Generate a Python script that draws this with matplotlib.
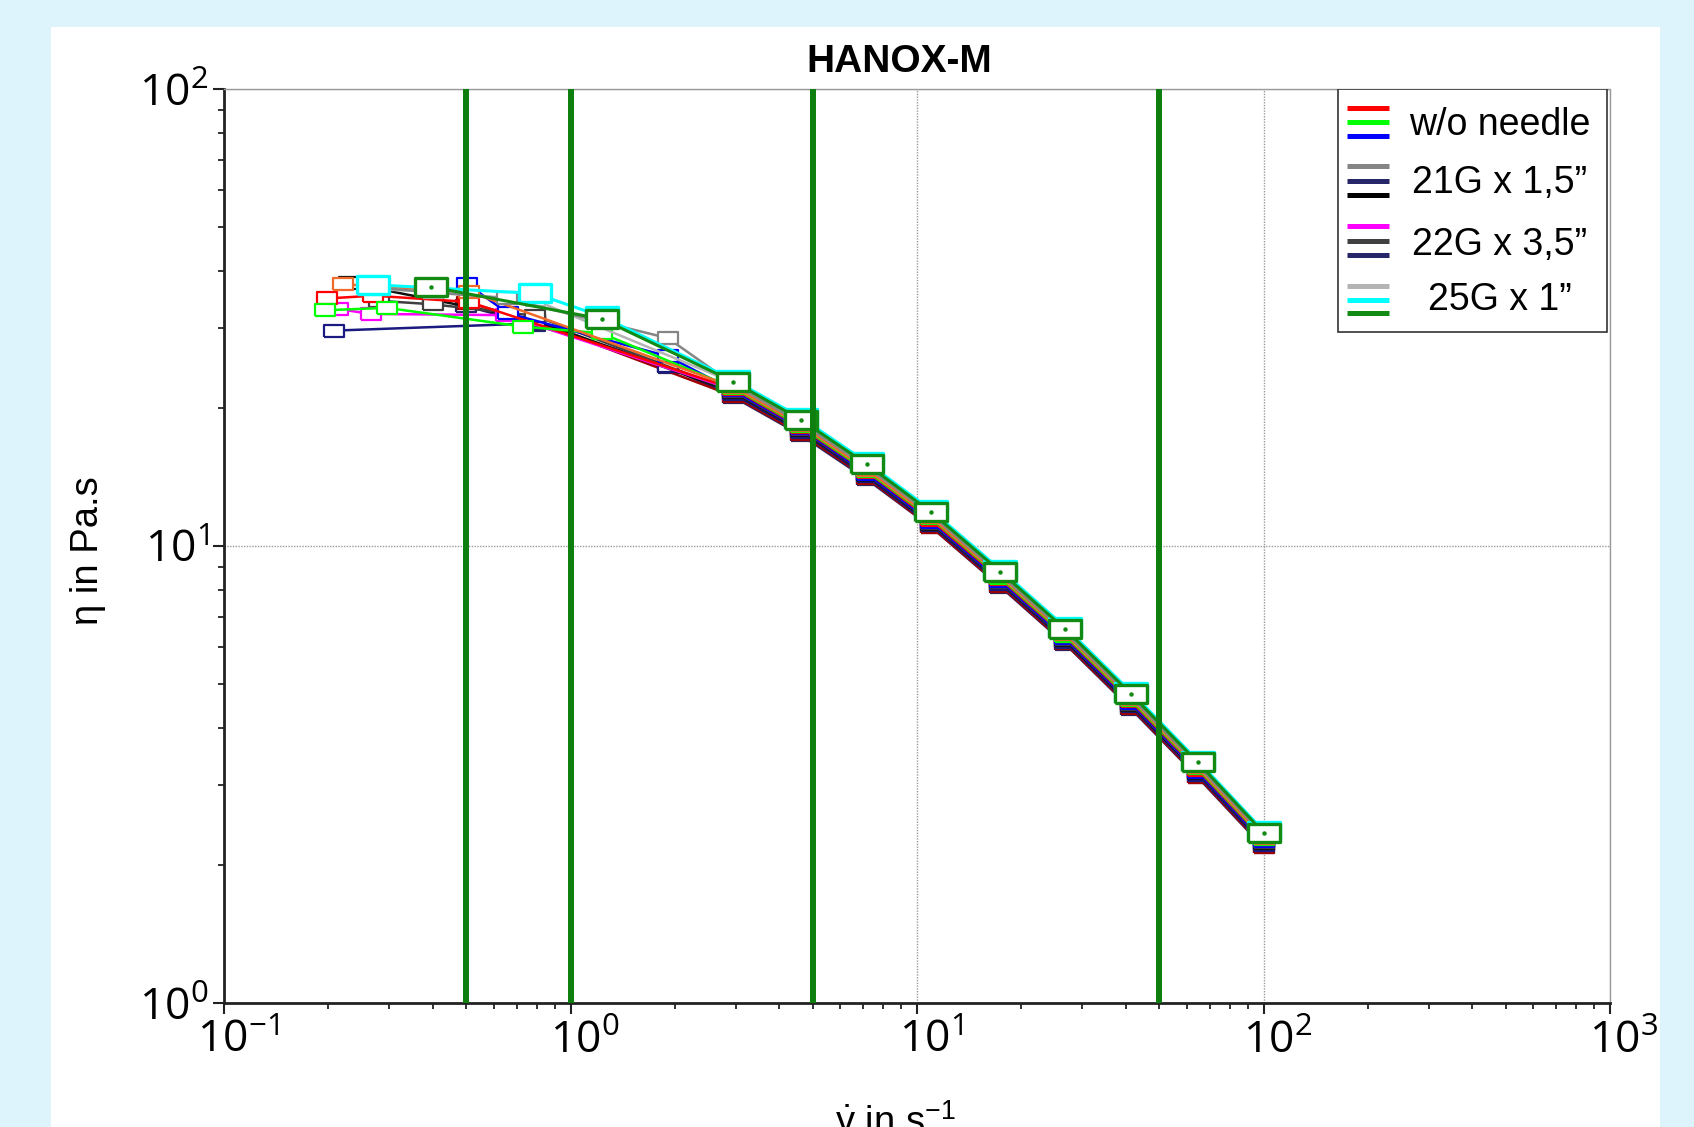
import matplotlib
matplotlib.use('Agg')
import matplotlib.pyplot as plt
from matplotlib.patches import Rectangle
from matplotlib.ticker import LogLocator, NullFormatter
from matplotlib.transforms import ScaledTranslation

plt.rcParams['font.family'] = ['Liberation Sans', 'DejaVu Sans']
plt.rcParams['mathtext.fontset'] = 'custom'
plt.rcParams['mathtext.rm'] = 'Liberation Sans'
plt.rcParams['mathtext.it'] = 'Liberation Sans:italic'

# shear rates shared by every run (1/s)
shear = [100, 64.6, 41.5, 26.8, 17.4, 11.0, 7.16, 4.62, 2.95]

# viscosity (Pa.s) on the shared shear rates, then low shear tail per run
eta_darknavy = [2.19, 3.12, 4.40, 6.10, 8.15, 11.0, 14.0, 17.5, 21.2]
tail_darknavy = ([1.91, 0.79, 0.50], [24.7, 30.5, 33.5])
eta_maroon = [2.20, 3.13, 4.42, 6.12, 8.19, 11.0, 14.1, 17.6, 21.3]
tail_maroon = ([0.79, 0.504], [31.0, 34.1])
eta_navy = [2.22, 3.16, 4.46, 6.18, 8.27, 11.1, 14.2, 17.8, 21.5]
tail_navy = ([1.91, 0.79, 0.208], [24.8, 30.7, 29.6])
eta_black = [2.24, 3.19, 4.49, 6.22, 8.33, 11.2, 14.3, 17.9, 21.7]
tail_black = ([0.79, 0.40, 0.23], [31.2, 34.6, 37.6])
eta_darkgray = [2.25, 3.20, 4.51, 6.25, 8.36, 11.25, 14.35, 18.0, 21.8]
tail_darkgray = ([0.79, 0.40, 0.28], [31.9, 33.8, 34.4])
eta_magenta = [2.27, 3.22, 4.55, 6.31, 8.44, 11.35, 14.5, 18.1, 22.0]
tail_magenta = ([0.65, 0.265, 0.214], [32.0, 32.2, 33.0])
eta_blue = [2.26, 3.21, 4.53, 6.28, 8.40, 11.3, 14.4, 18.1, 21.9]
tail_blue = ([1.91, 0.66, 0.504], [26.0, 32.3, 37.4])
eta_red = [2.28, 3.24, 4.57, 6.34, 8.48, 11.4, 14.55, 18.2, 22.1]
tail_red = ([0.51, 0.27, 0.198], [34.2, 35.3, 34.8])
eta_lime = [2.29, 3.26, 4.60, 6.37, 8.53, 11.5, 14.6, 18.3, 22.2]
tail_lime = ([1.23, 0.73, 0.295, 0.196], [29.2, 30.2, 33.2, 32.8])
eta_orange = [2.30, 3.28, 4.63, 6.41, 8.58, 11.55, 14.7, 18.4, 22.3]
tail_orange = ([0.51, 0.22], [36.0, 37.4])
eta_gray = [2.33, 3.31, 4.67, 6.47, 8.66, 11.7, 14.9, 18.6, 22.6]
tail_gray = ([1.91, 0.655, 0.27], [28.5, 34.8, 36.8])
eta_lightgray = [2.35, 3.34, 4.72, 6.54, 8.75, 11.8, 15.0, 18.8, 22.8]
tail_lightgray = ([0.79, 0.40, 0.27], [34.5, 36.0, 36.5])
eta_cyan = [2.38, 3.39, 4.79, 6.64, 8.88, 11.97, 15.25, 19.1, 23.1]
tail_cyan = ([1.23, 0.79, 0.27], [31.8, 35.7, 37.3])
eta_green = [2.36, 3.36, 4.74, 6.57, 8.79, 11.85, 15.1, 18.9, 22.9]
tail_green = ([1.23, 0.395], [31.4, 36.9])

# drawing order, bottom to top: (eta, tail, color, big marker)
runs = [
    (eta_darknavy, tail_darknavy, '#262668', False),
    (eta_maroon, tail_maroon, '#a00000', False),
    (eta_navy, tail_navy, '#1a1a80', False),
    (eta_black, tail_black, '#111111', False),
    (eta_darkgray, tail_darkgray, '#404040', False),
    (eta_magenta, tail_magenta, '#ff00ff', False),
    (eta_blue, tail_blue, '#0000ff', False),
    (eta_red, tail_red, '#ff0000', False),
    (eta_lime, tail_lime, '#00ff00', False),
    (eta_orange, tail_orange, '#f06a2a', False),
    (eta_lightgray, tail_lightgray, '#b4b4b4', False),
    (eta_gray, tail_gray, '#858585', False),
    (eta_cyan, tail_cyan, '#00ffff', True),
    (eta_green, tail_green, '#138a13', True),
]

marked_rates = [0.5, 1, 5, 50]

legend_labels = ['w/o needle', '21G x 1,5\u201d', '22G x 3,5\u201d', '25G x 1\u201d']
legend_colors = [
    ['#ff0000', '#00ff00', '#0000ff'],
    ['#858585', '#262668', '#000000'],
    ['#ff00ff', '#404040', '#262668'],
    ['#b4b4b4', '#00ffff', '#138a13'],
]

rect = [(-1, -0.58), (1, -0.58), (1, 0.58), (-1, 0.58), (-1, -0.58)]

fig = plt.figure(figsize=(16.94, 11.27), dpi=100)
fig.patch.set_facecolor('#ddf4fd')
fig.patches.append(Rectangle((51 / 1694, 0), (1660 - 51) / 1694, 1 - 27 / 1127,
                             transform=fig.transFigure, facecolor='white',
                             edgecolor='none', zorder=-10))

ax = fig.add_axes([224 / 1694, 1 - 1003 / 1127, (1610 - 224) / 1694, (1003 - 89) / 1127])
ax.set_zorder(2)
ax.set_xscale('log')
ax.set_yscale('log')
ax.set_xlim(0.1, 1000)
ax.set_ylim(1, 100)

for eta, tail, color, big in runs:
    x = shear + tail[0]
    y = eta + tail[1]
    ax.plot(x, y, color=color, lw=2.2 if big else 1.8, marker=rect,
            ms=23 if big else 14, mew=2.4 if big else 1.6,
            mfc='white', mec=color, zorder=3)
ax.plot(shear + tail_green[0], eta_green + tail_green[1], ls='none', marker='o',
        ms=2.2, color='#138a13', zorder=4)

for r in marked_rates:
    ax.axvline(r, color='#0e7e0e', lw=4.3, zorder=5)

ax.grid(True, which='major', color='#9a9a9a', ls=(0, (1, 1)), lw=1, zorder=1)
ax.set_axisbelow(True)
for s in ['top', 'right']:
    ax.spines[s].set_color('#9a9a9a')
    ax.spines[s].set_linestyle((0, (1, 1)))
    ax.spines[s].set_linewidth(1)
for s in ['left', 'bottom']:
    ax.spines[s].set_color('#222222')
    ax.spines[s].set_linewidth(2)

ax.xaxis.set_major_locator(LogLocator(base=10, numticks=10))
ax.xaxis.set_minor_locator(LogLocator(base=10, subs=range(2, 10), numticks=20))
ax.yaxis.set_minor_locator(LogLocator(base=10, subs=range(2, 10), numticks=20))
ax.xaxis.set_minor_formatter(NullFormatter())
ax.yaxis.set_minor_formatter(NullFormatter())
ax.tick_params(which='major', direction='out', length=8, width=1.5, color='#222222',
               labelsize=32, labelfontfamily='Open Sans')
ax.tick_params(axis='x', which='major', pad=4)
ax.tick_params(axis='y', which='major', pad=3)
ax.tick_params(which='minor', direction='out', length=4, width=1.3, color='#222222')

# legend drawn by hand: three coloured strokes per label
lx0, lx1 = 0.8035, 0.998
ly0, ly1 = 0.7345, 1.0
ax.add_patch(Rectangle((lx0, ly0), lx1 - lx0, ly1 - ly0, transform=ax.transAxes,
                       facecolor='white', edgecolor='#333333', lw=1.2, zorder=6))
stroke_y = [[107.7, 122.3, 136.3], [166.3, 181, 195], [226, 241, 255], [285.7, 300, 313.3]]
text_y = [125, 183, 245, 300]
for label, cols, sy, ty in zip(legend_labels, legend_colors, stroke_y, text_y):
    for c, yy in zip(cols, sy):
        ax.plot([0.8101, 0.8405], [(1003 - yy) / 914] * 2, color=c, lw=3.6,
                transform=ax.transAxes, solid_capstyle='butt', zorder=7, clip_on=False)
    ax.text(0.9205, (1003 - ty) / 914, label, transform=ax.transAxes, ha='center',
            va='center', fontsize=27, zorder=7)

fig.text(899 / 1694, 1 - 62 / 1127, 'HANOX-M', ha='center', va='center',
         fontsize=28, fontweight='bold')
fig.text(88 / 1694, 1 - 551 / 1127, '\u03b7 in Pa.s', rotation=90, ha='center',
         va='center', fontsize=27.5)
fig.text(895 / 1694, 1 - 1098 / 1127, r'$\dot{\mathrm{\gamma}}$ in s$^{-1}$',
         ha='center', va='top', fontsize=27.5)

# x tick labels sit a little right of their ticks in the original
fig.canvas.draw()
shift = ScaledTranslation(14 / 100, 0, fig.dpi_scale_trans)
for t in ax.xaxis.get_major_ticks():
    t.label1.set_transform(t.label1.get_transform() + shift)

fig.savefig('out.png', dpi=100, facecolor=fig.get_facecolor())
